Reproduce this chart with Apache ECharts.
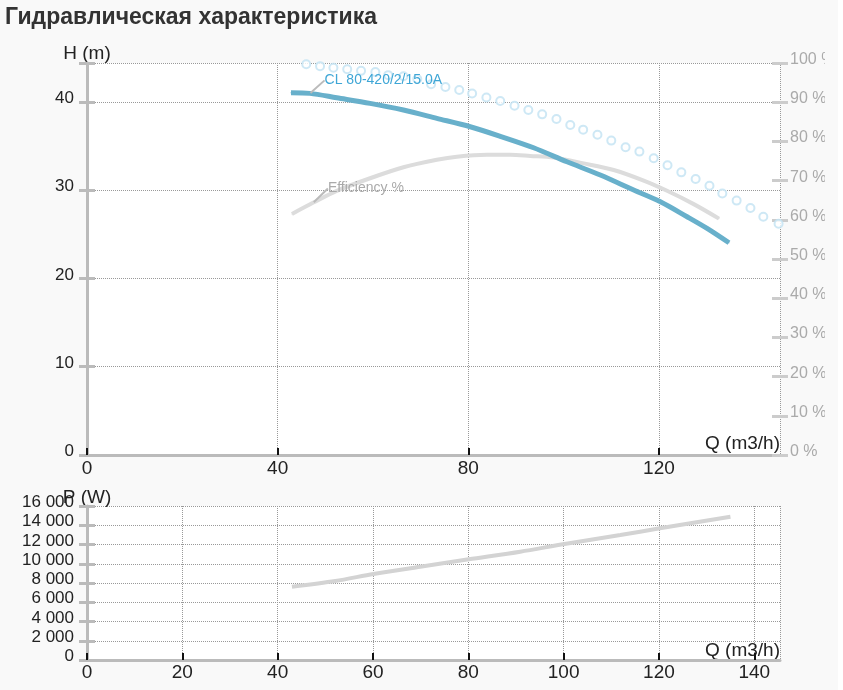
<!DOCTYPE html>
<html>
<head>
<meta charset="utf-8">
<script src="https://cdn.jsdelivr.net/npm/echarts@6/dist/echarts.min.js"></script>
<style>
html,body{margin:0;padding:0;background:#fff;}
#wrap{width:838px;height:690px;background:#f9f9f9;}
#chart{width:825px;height:690px;}
</style>
</head>
<body>
<div id="wrap"><div id="chart"></div></div>
<script>
// ---- data ----
const titleText = 'Гидравлическая характеристика';
const curveName = 'CL 80-420/2/15.0A';
const effName = 'Efficiency %';

const qH = [42.8,46.8,52.4,59.4,66.4,73.4,80.4,86.7,93.7,100.7,107.7,114.7,120.3,125.9,130.1,134.7];
const hValues = [41.03,40.96,40.46,39.83,39.07,38.13,37.18,36.1,34.8,33.21,31.71,30.01,28.68,26.99,25.67,24.04];

const qEff = [43.0,47.5,52.4,59.4,66.4,73.4,77.6,83.9,88.8,93.0,97.9,104.2,110.5,116.8,121.7,127.3,132.6];
const effValues = [61.5,64.4,67.4,70.6,73.4,75.3,76.1,76.6,76.6,76.3,75.9,74.4,72.7,70.0,67.4,64.0,60.3];

const qDots = [46.0,48.9,51.7,54.6,57.5,60.5,63.2,66.4,69.3,72.2,75.2,78.1,80.8,83.8,86.7,89.7,92.6,95.5,98.5,101.4,104.1,107.1,110.0,113.0,115.9,118.9,121.8,124.7,127.7,130.6,133.3,136.3,139.2,141.9,145.1];
const dotValues = [99.7,99.2,98.8,98.4,98.0,97.7,96.9,96.6,95.9,94.6,93.9,93.1,92.2,91.2,90.3,89.1,88.0,86.9,85.7,84.2,83.0,81.7,80.2,78.5,77.4,75.7,73.9,72.1,70.4,68.7,66.7,64.9,63.0,60.8,59.0];

const qP = [43.0,52.1,60.1,69.9,80.1,90.9,100.2,111.9,120.2,135.0];
const pValues = [7616,8208,8935,9693,10462,11252,12052,12987,13683,14893];

const hTicks = {min:0, max:44.4, interval:10};
const effTicks = {min:0, max:100, interval:10};
const pTicks = {min:0, max:16000, interval:2000};
const qTop = {min:0, max:145.4, interval:40};
const qBottom = {min:0, max:145.4, interval:20};

// ---- build ----
const FONT = 'Liberation Sans, Arial, sans-serif';
const zip = (a,b) => a.map((x,i)=>[x,b[i]]);
const labelAt = (arr, idx, labelOpt) => arr.map((p,i)=> i===idx ? {value:p, label:labelOpt} : p);

const gridLine = {show:true, lineStyle:{type:'dotted', color:'#999', width:1}};
// y labels sit a few px above their tick
const yLab = {verticalAlign:'bottom', lineHeight:7};

function numFmt(v){ return String(v).replace(/\B(?=(\d{3})+(?!\d))/g,' '); }

const chart = echarts.init(document.getElementById('chart'));
chart.setOption({
  animation:false,
  backgroundColor:'transparent',
  textStyle:{fontFamily:FONT},
  title:{text:titleText, left:0, top:1, textStyle:{fontSize:23, fontWeight:'bold', color:'#333', fontFamily:FONT}},
  grid:[
    {left:87, right:45, top:63, height:392, show:true, backgroundColor:'#fff', borderWidth:0, containLabel:false, outerBoundsMode:'none'},
    {left:87, right:45, top:506, height:154, show:true, backgroundColor:'#fff', borderWidth:0, containLabel:false, outerBoundsMode:'none'}
  ],
  xAxis:[
    {type:'value', gridIndex:0, min:qTop.min, max:qTop.max, interval:qTop.interval,
     name:'Q (m3/h)', nameLocation:'end', nameGap:0, nameMoveOverlap:false,
     nameTextStyle:{align:'right', verticalAlign:'bottom', fontSize:19, color:'#222', padding:[0,0,2,0]},
     axisLine:{show:true, lineStyle:{color:'#bbb', width:3}},
     axisTick:{show:true, inside:true, length:7, lineStyle:{color:'#111', width:2}},
     axisLabel:{fontSize:19, color:'#222', margin:4, showMaxLabel:false},
     splitLine:gridLine},
    {type:'value', gridIndex:1, min:qBottom.min, max:qBottom.max, interval:qBottom.interval,
     name:'Q (m3/h)', nameLocation:'end', nameGap:0, nameMoveOverlap:false,
     nameTextStyle:{align:'right', verticalAlign:'bottom', fontSize:19, color:'#222', padding:[0,0,0,0]},
     axisLine:{show:true, lineStyle:{color:'#bbb', width:3}},
     axisTick:{show:true, inside:true, length:7, lineStyle:{color:'#111', width:2}},
     axisLabel:{fontSize:19, color:'#222', margin:3, showMaxLabel:false},
     splitLine:gridLine}
  ],
  yAxis:[
    {type:'value', gridIndex:0, position:'left', min:hTicks.min, max:hTicks.max, interval:hTicks.interval,
     name:'H (m)', nameLocation:'end', nameGap:0, nameMoveOverlap:false,
     nameTextStyle:{fontSize:19, color:'#222'},
     axisLine:{show:true, lineStyle:{color:'#bbb', width:3}},
     axisTick:{show:false},
     axisLabel:Object.assign({fontSize:17, color:'#222', margin:13, showMaxLabel:false}, yLab),
     splitLine:gridLine},
    {type:'value', gridIndex:0, position:'right', offset:-8, min:effTicks.min, max:effTicks.max, interval:effTicks.interval,
     axisLine:{show:false},
     axisTick:{show:true, length:16, lineStyle:{color:'#ccc', width:3}},
     axisLabel:Object.assign({fontSize:16, color:'#aaa', margin:18, formatter:v=>v+' %'}, yLab),
     splitLine:{show:false}},
    {type:'value', gridIndex:0, position:'left', offset:-8, min:hTicks.min, max:hTicks.max, interval:hTicks.interval,
     axisLine:{show:false},
     axisTick:{show:true, length:16, lineStyle:{color:'#bbb', width:3}},
     axisLabel:{show:false}, splitLine:{show:false}},
    {type:'value', gridIndex:1, position:'left', min:pTicks.min, max:pTicks.max, interval:pTicks.interval,
     name:'P (W)', nameLocation:'end', nameGap:-1, nameMoveOverlap:false,
     nameTextStyle:{fontSize:19, color:'#222'},
     axisLine:{show:true, lineStyle:{color:'#bbb', width:3}},
     axisTick:{show:false},
     axisLabel:Object.assign({fontSize:17, color:'#222', margin:13, formatter:numFmt}, yLab),
     splitLine:gridLine},
    {type:'value', gridIndex:1, position:'left', offset:-8, min:pTicks.min, max:pTicks.max, interval:pTicks.interval,
     axisLine:{show:false},
     axisTick:{show:true, length:16, lineStyle:{color:'#bbb', width:3}},
     axisLabel:{show:false}, splitLine:{show:false}}
  ],
  series:[
    {type:'scatter', name:'dots', xAxisIndex:0, yAxisIndex:1, data:zip(qDots, dotValues),
     symbol:'emptyCircle', symbolSize:8, itemStyle:{color:'#c2e2f3', borderColor:'#c2e2f3', borderWidth:2.5}, z:1},
    {type:'line', name:effName, xAxisIndex:0, yAxisIndex:1, smooth:0.3,
     data:labelAt(zip(qEff, effValues), 1, {show:true, position:'right', formatter:effName, fontSize:14, color:'#aaa'}),
     showSymbol:true, symbol:'circle', symbolSize:1, itemStyle:{color:'#dcdcdc'},
     lineStyle:{color:'#dcdcdc', width:4},
     labelLayout:{dx:9, dy:-14},
     labelLine:{show:true, lineStyle:{color:'#bbb', width:2}}, z:2},
    {type:'line', name:curveName, xAxisIndex:0, yAxisIndex:0, smooth:0.3,
     data:labelAt(zip(qH, hValues), 1, {show:true, position:'right', formatter:curveName, fontSize:14, color:'#3ea6d6'}),
     showSymbol:true, symbol:'circle', symbolSize:1, itemStyle:{color:'#68b0cb'},
     lineStyle:{color:'#68b0cb', width:5},
     labelLayout:{dx:9, dy:-13},
     labelLine:{show:true, lineStyle:{color:'#bbb', width:2}}, z:3},
    {type:'line', name:'P', xAxisIndex:1, yAxisIndex:3, smooth:0.3,
     data:zip(qP, pValues), showSymbol:false,
     lineStyle:{color:'#d3d3d3', width:4}, z:2}
  ]
});
</script>
</body>
</html>
